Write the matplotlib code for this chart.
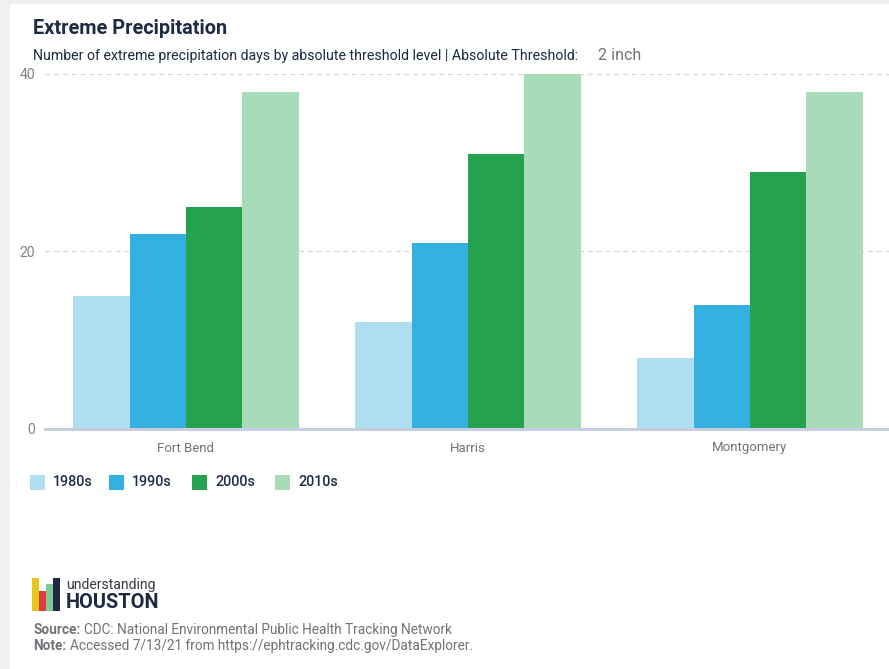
import numpy as np
import matplotlib.pyplot as plt
from matplotlib.patches import Rectangle

# --------------------------------------------
# Data
# --------------------------------------------
counties = ["Fort Bend", "Harris", "Montgomery"]
decades = ["1980s", "1990s", "2000s", "2010s"]
days_1980s = [15, 12, 8]
days_1990s = [22, 21, 14]
days_2000s = [25, 31, 29]
days_2010s = [38, 40, 38]
yticks = [0, 20, 40]

colors = ["#aedff0", "#33b0e0", "#24a24e", "#a8dbb8"]
navy = "#1d2a44"
gray = "#6f7277"

plt.rcParams["font.family"] = ["Roboto", "DejaVu Sans"]

W, H = 889, 669
fig = plt.figure(figsize=(W / 100, H / 100), dpi=100, facecolor="#efefef")

# white card behind everything
fig.patches.append(Rectangle((10 / W, 0), 1, 1 - 4 / H, transform=fig.transFigure,
                             facecolor="white", edgecolor="none", zorder=-10))

def fx(px):
    return px / W

def fy(py):
    return 1 - py / H

# --------------------------------------------
# Axes
# --------------------------------------------
ax = fig.add_axes([fx(45), fy(429), fx(846), (429 - 74) / H])
ax.set_facecolor("none")
ax.set_zorder(1)

series = [days_1980s, days_1990s, days_2000s, days_2010s]
x = np.arange(len(counties))
bw = 0.2
for i, vals in enumerate(series):
    ax.bar(x + (i - 1.5) * bw, vals, width=bw, color=colors[i], zorder=2,
           label=decades[i])

ax.set_xlim(-0.5, 2.5)
ax.set_ylim(0, 40)
ax.set_yticks(yticks)
ax.set_yticklabels([str(t) for t in yticks], color="#808386", fontsize=10)
ax.set_xticks(x)
ax.set_xticklabels(counties, color=gray, fontsize=9.5)
ax.tick_params(axis="both", length=0)
ax.tick_params(axis="y", pad=7)
ax.tick_params(axis="x", pad=9)
for t in [20, 40]:
    ax.axhline(t, color="#d6d6d6", lw=0.9, ls=(0, (4, 3)), zorder=1)
for s in ["top", "right", "left"]:
    ax.spines[s].set_visible(False)
ax.spines["bottom"].set_color("#c8cee2")
ax.spines["bottom"].set_linewidth(2.2)
ax.spines["bottom"].set_zorder(3)

# --------------------------------------------
# Titles
# --------------------------------------------
fig.text(fx(33), fy(29), "Extreme Precipitation", fontsize=14.3, fontweight="bold",
         color=navy, va="center", ha="left")
fig.text(fx(33), fy(56), "Number of extreme precipitation days by absolute threshold level | Absolute Threshold:",
         fontsize=10.2, color=navy, va="center", ha="left")
fig.text(fx(598), fy(55), "2 inch", fontsize=11.5, color=gray, va="center", ha="left")

# --------------------------------------------
# Legend
# --------------------------------------------
leg_x = [30, 109, 192, 275]
for i, d in enumerate(decades):
    fig.patches.append(Rectangle((fx(leg_x[i]), fy(490)), fx(15), 15 / H,
                                 transform=fig.transFigure, facecolor=colors[i],
                                 edgecolor="none"))
    fig.text(fx(leg_x[i] + 23), fy(482), d, fontsize=10.3, fontweight="medium",
             color=navy, va="center", ha="left")

# --------------------------------------------
# Logo
# --------------------------------------------
logo = [(32, 578, "#e8c41f"), (39, 591, "#e0393e"), (46, 584, "#7fc99a"), (53, 578, navy)]
for lx, ly, c in logo:
    fig.patches.append(Rectangle((fx(lx), fy(611)), fx(7), (611 - ly) / H,
                                 transform=fig.transFigure, facecolor=c,
                                 edgecolor="none"))
fig.text(fx(66), fy(585), "understanding", fontsize=10.1, color="#333a45",
         va="center", ha="left")
fig.text(fx(66), fy(603), "HOUSTON", fontsize=14.4, fontweight="bold", color=navy,
         va="center", ha="left")

# --------------------------------------------
# Source / note
# --------------------------------------------
notes = [("Source:", "CDC: National Environmental Public Health Tracking Network", 630),
         ("Note:", "Accessed 7/13/21 from https://ephtracking.cdc.gov/DataExplorer.", 646)]
for head, body, py in notes:
    t = fig.text(fx(33), fy(py), head, fontsize=9.8, fontweight="bold",
                 color=gray, va="center", ha="left")
    ax.annotate(body, xy=(1, 0.5), xycoords=t, xytext=(3, 0),
                textcoords="offset points", fontsize=9.8, color=gray,
                va="center", ha="left", annotation_clip=False)

fig.savefig("out.png", dpi=100, facecolor=fig.get_facecolor())
